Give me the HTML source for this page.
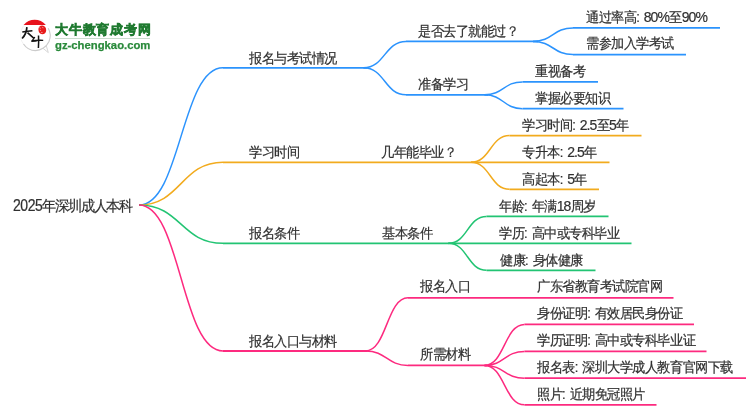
<!DOCTYPE html><html><head><meta charset="utf-8"><style>
html,body{margin:0;padding:0;background:#fff;width:750px;height:410px;overflow:hidden}
body{position:relative;font-family:"Liberation Sans",sans-serif}
.t{position:absolute;white-space:nowrap;color:#303030;font-size:13px;line-height:13px;letter-spacing:-0.45px;word-spacing:1.2px;-webkit-text-stroke:0.2px #303030;transform:scaleY(1.06);transform-origin:0 50%;will-change:transform}
svg{position:absolute;left:0;top:0}
.n{font-size:14px;letter-spacing:-0.9px}
</style></head><body>
<svg width="750" height="410" viewBox="0 0 750 410" fill="none" stroke-linecap="butt">
<path d="M139,205 C181.00,205 181.00,67.8 223,67.8" stroke="#2b93fd" stroke-width="1.5"/>
<path d="M139,205 C181.00,205 181.00,162.3 223,162.3" stroke="#f2ab1e" stroke-width="1.5"/>
<path d="M139,205 C181.00,205 181.00,243.3 223,243.3" stroke="#22c473" stroke-width="1.5"/>
<path d="M139,205 C181.00,205 181.00,351 223,351" stroke="#fd2a7f" stroke-width="1.5"/>
<path d="M223,67.8 H367" stroke="#2b93fd" stroke-width="1.8"/>
<path d="M363.5,67.8 C384.75,67.8 384.75,41.4 406,41.4" stroke="#2b93fd" stroke-width="1.5"/>
<path d="M363.5,67.8 C384.75,67.8 384.75,94.8 406,94.8" stroke="#2b93fd" stroke-width="1.5"/>
<path d="M406,41.4 H538" stroke="#2b93fd" stroke-width="1.8"/>
<path d="M406,94.8 H488" stroke="#2b93fd" stroke-width="1.8"/>
<path d="M533,41.4 C553.00,41.4 553.00,27.9 573,27.9" stroke="#2b93fd" stroke-width="1.5"/>
<path d="M533,41.4 C553.00,41.4 553.00,54.6 573,54.6" stroke="#2b93fd" stroke-width="1.5"/>
<path d="M573,27.9 H720" stroke="#2b93fd" stroke-width="1.8"/>
<path d="M573,54.6 H686" stroke="#2b93fd" stroke-width="1.8"/>
<path d="M484.5,94.8 C503.50,94.8 503.50,81.9 522.5,81.9" stroke="#2b93fd" stroke-width="1.5"/>
<path d="M484.5,94.8 C503.50,94.8 503.50,108.7 522.5,108.7" stroke="#2b93fd" stroke-width="1.5"/>
<path d="M522.5,81.9 H598" stroke="#2b93fd" stroke-width="1.8"/>
<path d="M522.5,108.7 H623.5" stroke="#2b93fd" stroke-width="1.8"/>
<path d="M223,162.3 H471" stroke="#f2ab1e" stroke-width="1.8"/>
<path d="M471,162.3 C490.25,162.3 490.25,135.6 509.5,135.6" stroke="#f2ab1e" stroke-width="1.5"/>
<path d="M471,162.3 H609.5" stroke="#f2ab1e" stroke-width="1.8"/>
<path d="M471,162.3 C490.25,162.3 490.25,189.3 509.5,189.3" stroke="#f2ab1e" stroke-width="1.5"/>
<path d="M509.5,135.6 H641.5" stroke="#f2ab1e" stroke-width="1.8"/>
<path d="M509.5,189.3 H599" stroke="#f2ab1e" stroke-width="1.8"/>
<path d="M223,243.3 H449" stroke="#22c473" stroke-width="1.8"/>
<path d="M448.5,243.3 C467.50,243.3 467.50,216.4 486.5,216.4" stroke="#22c473" stroke-width="1.5"/>
<path d="M448.5,243.3 H631.5" stroke="#22c473" stroke-width="1.8"/>
<path d="M448.5,243.3 C467.50,243.3 467.50,270.3 486.5,270.3" stroke="#22c473" stroke-width="1.5"/>
<path d="M486.5,216.4 H608.5" stroke="#22c473" stroke-width="1.8"/>
<path d="M486.5,270.3 H595.5" stroke="#22c473" stroke-width="1.8"/>
<path d="M223,351 H367.5" stroke="#fd2a7f" stroke-width="1.8"/>
<path d="M365.5,351 C386.75,351 386.75,297.8 408,297.8" stroke="#fd2a7f" stroke-width="1.5"/>
<path d="M365.5,351 C386.75,351 386.75,365.4 408,365.4" stroke="#fd2a7f" stroke-width="1.5"/>
<path d="M408,297.8 H673.5" stroke="#fd2a7f" stroke-width="1.8"/>
<path d="M408,365.4 H487" stroke="#fd2a7f" stroke-width="1.8"/>
<path d="M484.5,365.4 C504.50,365.4 504.50,324.4 524.5,324.4" stroke="#fd2a7f" stroke-width="1.5"/>
<path d="M524.5,324.4 H694" stroke="#fd2a7f" stroke-width="1.8"/>
<path d="M484.5,365.4 C504.50,365.4 504.50,351.4 524.5,351.4" stroke="#fd2a7f" stroke-width="1.5"/>
<path d="M524.5,351.4 H706.5" stroke="#fd2a7f" stroke-width="1.8"/>
<path d="M484.5,365.4 C504.50,365.4 504.50,378.2 524.5,378.2" stroke="#fd2a7f" stroke-width="1.5"/>
<path d="M524.5,378.2 H746" stroke="#fd2a7f" stroke-width="1.8"/>
<path d="M484.5,365.4 C504.50,365.4 504.50,404.8 524.5,404.8" stroke="#fd2a7f" stroke-width="1.5"/>
<path d="M524.5,404.8 H656.5" stroke="#fd2a7f" stroke-width="1.8"/>
<g>
<path d="M35,20.4 C27,20.5 20.7,26.5 20.6,35 C20.5,41 24,46.5 30,49.3" stroke="#efefef" stroke-width="0.9" fill="none"/>
<path d="M23.5,44 C26.5,48.5 31,50.6 35.5,50.6 C41,50.5 46.5,47 49,41.5 C50.6,37.5 50.4,32 48.2,28.3" stroke="#cbcbcb" stroke-width="1.1" fill="none"/>
<path d="M43,48.3 L48.3,52.6 L46.3,45.8" stroke="#d2d2d2" stroke-width="0.9" fill="none"/>
<path d="M23.6,24.9 A14.4,14.4 0 0 1 45.8,24.9 Z" fill="#e8121c"/>
<path d="M38.4,29.2 C38.4,26.6 40.2,25.3 42.3,25.4 C44.8,25.5 46.3,27.4 46.2,30.2 C46.1,32.9 44.4,34.3 42.1,34.2 C39.8,34.1 38.4,32.2 38.4,29.2 Z" fill="#e81b1b"/>
<path d="M39.3,27.6 l1.6,0.8 M39.8,30.2 l1.2,0.4 M42.5,27 l0.6,1.2 M41,32.4 l1.6,0.1" stroke="#f3a6a6" stroke-width="0.8"/>
<path d="M22.3,32 C25,31.5 29,30.9 32.4,30.7" stroke="#141414" stroke-width="1.5" fill="none"/>
<path d="M26.9,27.1 C26.7,31 25.2,35.2 22.1,38.5" stroke="#141414" stroke-width="1.7" fill="none"/>
<path d="M27.5,32.7 C29.6,34.6 31.8,36.6 34,38.4" stroke="#141414" stroke-width="1.6" fill="none"/>
<path d="M34.8,37 C33.9,38.5 32.7,40.1 31.6,41.4" stroke="#141414" stroke-width="1.3" fill="none"/>
<path d="M31.4,41.4 L36.6,40.8" stroke="#141414" stroke-width="1.3" fill="none"/>
<path d="M32.2,40.7 C35.5,40.4 39.5,40.2 43.2,40.4" stroke="#141414" stroke-width="1.4" fill="none"/>
<path d="M38.5,35.5 C38.7,39.5 38.7,44 38.4,48" stroke="#141414" stroke-width="1.5" fill="none"/>
</g>

</svg>
<div class="t" style="left:13.2px;top:198.9px;font-size:14px;line-height:14px;letter-spacing:-1.2px"><span style="letter-spacing:-0.45px;display:inline-block;transform:scaleY(1.13);transform-origin:0 80%">2025</span>年深圳成人本科</div>
<div class="t" style="left:248.5px;top:51.6px">报名与考试情况</div>
<div class="t" style="left:248.5px;top:146.2px">学习时间</div>
<div class="t" style="left:248.5px;top:227.2px">报名条件</div>
<div class="t" style="left:248.5px;top:334.6px">报名入口与材料</div>
<div class="t" style="left:418.2px;top:24.7px">是否去了就能过？</div>
<div class="t" style="left:418.0px;top:78.4px">准备学习</div>
<div class="t" style="left:380.6px;top:146.2px">几年能毕业？</div>
<div class="t" style="left:382.4px;top:227.2px">基本条件</div>
<div class="t" style="left:419.6px;top:280.4px">报名入口</div>
<div class="t" style="left:419.6px;top:348.4px">所需材料</div>
<div class="t" style="left:585.8px;top:10.9px">通过率高: <span class="n">80%</span>至<span class="n">90%</span></div>
<div class="t" style="left:585.8px;top:37.4px">需参加入学考试</div>
<div class="t" style="left:534.6px;top:64.9px">重视备考</div>
<div class="t" style="left:534.6px;top:91.7px">掌握必要知识</div>
<div class="t" style="left:522.2px;top:119.2px">学习时间: <span class="n">2.5</span>至<span class="n">5</span>年</div>
<div class="t" style="left:522.2px;top:146.2px">专升本: <span class="n">2.5</span>年</div>
<div class="t" style="left:522.2px;top:172.9px">高起本: <span class="n">5</span>年</div>
<div class="t" style="left:499.4px;top:199.7px">年龄: 年满<span class="n">18</span>周岁</div>
<div class="t" style="left:499.4px;top:226.9px">学历: 高中或专科毕业</div>
<div class="t" style="left:500.0px;top:253.7px">健康: 身体健康</div>
<div class="t" style="left:537.4px;top:280.4px">广东省教育考试院官网</div>
<div class="t" style="left:537.4px;top:307.4px">身份证明: 有效居民身份证</div>
<div class="t" style="left:537.2px;top:334.4px">学历证明: 高中或专科毕业证</div>
<div class="t" style="left:537.2px;top:361.4px">报名表: 深圳大学成人教育官网下载</div>
<div class="t" style="left:537.2px;top:388.4px">照片: 近期免冠照片</div>
<div style="position:absolute;left:55px;top:23px;font-size:13px;line-height:13px;letter-spacing:0.8px;font-weight:bold;color:#1f7a30;-webkit-text-stroke:0.55px #1f7a30;white-space:nowrap;will-change:transform">大牛教育成考网</div>
<div style="position:absolute;left:55px;top:38px;width:95px;height:1px;background:#c9dccd"></div>
<div style="position:absolute;left:55px;top:39.5px;font-size:11.3px;line-height:11px;font-weight:bold;color:#2a8a3b;-webkit-text-stroke:0.25px #2a8a3b;white-space:nowrap;will-change:transform">gz-chengkao.com</div>
</body></html>
